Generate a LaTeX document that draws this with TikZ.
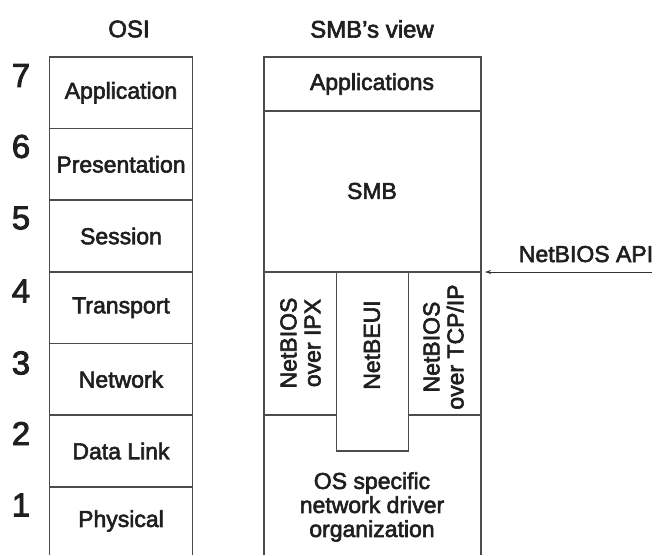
\documentclass[tikz,border=0pt]{standalone}
\usepackage{fontspec}
\setmainfont{Liberation Sans}[FakeBold=2.6]
\usetikzlibrary{arrows.meta}
\begin{document}
\begin{tikzpicture}[x=1pt,y=-1pt,
  lay/.style={font=\fontsize{23}{24}\selectfont, inner sep=0pt, align=center, text=black!88},
  num/.style={font=\fontsize{33}{33}\selectfont, inner sep=0pt, text=black!88},
  ttl/.style={font=\fontsize{24}{24}\selectfont, inner sep=0pt, text=black!88},
  ln/.style={line width=1.5pt, draw=black!70},
  arr/.style={line width=0.9pt, draw=black!80, -{Stealth[length=6pt,width=4pt]}}]
\useasboundingbox (0,0) rectangle (658,555);

% titles
\node[ttl] (tosi) at (129,29) {OSI};
\node[ttl] (tsmb) at (372,29) {SMB's view};

% OSI column
\draw[ln] (49.5,555) -- (49.5,57) -- (192.5,57) -- (192.5,555);
\foreach \yy in {128.5,200,272,343.5,415,487}
  \draw[ln] (49.5,\yy) -- (192.5,\yy);

\node[lay] (l7) at (121,92.75) {Application};
\node[lay] (l6) at (121,164.25) {Presentation};
\node[lay] (l5) at (121,236) {Session};
\node[lay] (l4) at (121,307.75) {Transport};
\node[lay] (l3) at (121,379.25) {Network};
\node[lay] (l2) at (121,451) {Data Link};
\node[lay] (l1) at (121,521) {Physical};

\node[num] (n7) at (21,75.5) {7};
\node[num] (n6) at (21,146.5) {6};
\node[num] (n5) at (21,218) {5};
\node[num] (n4) at (21,291) {4};
\node[num] (n3) at (21,363) {3};
\node[num] (n2) at (21,433.5) {2};
\node[num] (n1) at (21,505) {1};

% SMB column
\draw[ln] (264,555) -- (264,57) -- (481,57) -- (481,555);
\draw[ln] (264,111) -- (481,111);
\draw[ln] (264,272) -- (481,272);
\draw[ln] (336.5,272) -- (336.5,451) -- (408.5,451) -- (408.5,272);
\draw[ln] (264,415) -- (336.5,415);
\draw[ln] (408.5,415) -- (481,415);

\node[lay] (apps) at (372,84) {Applications};
\node[lay] (smb) at (372,191) {SMB};
\node[lay, rotate=90] (ipx) at (300.5,343) {NetBIOS\\over IPX};
\node[lay, rotate=90] (beui) at (372,345) {NetBEUI};
\node[lay, rotate=90] (tcp) at (443.5,347) {NetBIOS\\over TCP/IP};
\node[lay] (os) at (372,507) {OS specific\\network driver\\organization};

% NetBIOS API
\node[lay, anchor=base] (api) at (586,262) {NetBIOS API};
\coordinate (apiS) at (652,272);
\coordinate (apiE) at (485,272);
\draw[arr] (apiS) -- (apiE);
\end{tikzpicture}
\end{document}
